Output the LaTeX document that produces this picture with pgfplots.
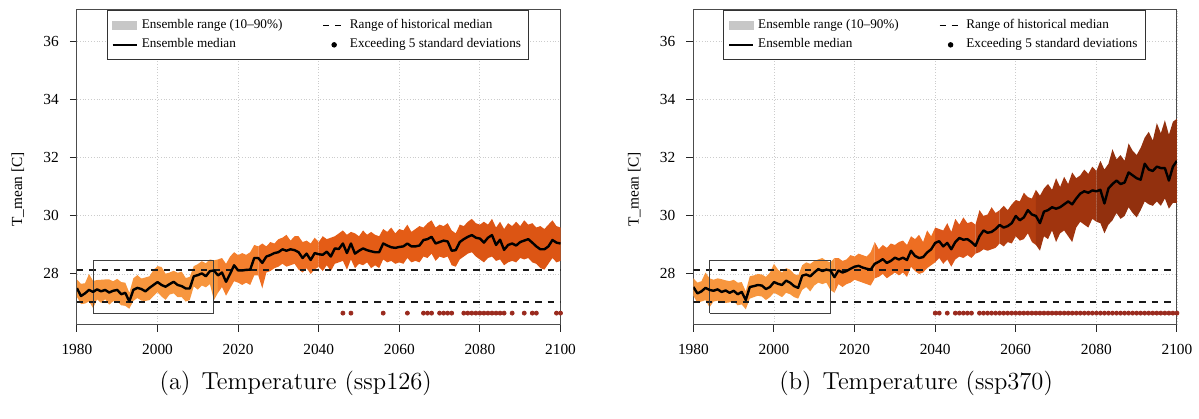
\documentclass[border=0pt]{standalone}
\usepackage{fontspec}
\usepackage{pgfplots}
\usepackage{pgfplotstable}
\pgfplotsset{compat=1.18}
\usepgfplotslibrary{fillbetween}
\newfontfamily\timesfont{Liberation Serif}

\definecolor{bandA}{HTML}{F7963E}
\definecolor{bandB}{HTML}{F4802E}
\definecolor{bandC}{HTML}{EE6E22}
\definecolor{bandD}{HTML}{E45C16}
\definecolor{bandE}{HTML}{DC5514}
\definecolor{bandR1}{HTML}{DC561A}
\definecolor{bandR2}{HTML}{C84812}
\definecolor{bandR3}{HTML}{B43E10}
\definecolor{bandR4}{HTML}{A0340E}
\definecolor{bandR5}{HTML}{92300E}
\definecolor{dotred}{HTML}{9A2A1E}

% ssp126: year, median, 10% and 90% of the ensemble
\pgfplotstableread{
year med lo hi
1980 27.51 27.21 27.81
1981 27.24 26.96 27.66
1982 27.33 26.98 27.68
1983 27.45 27.05 28.00
1984 27.38 26.83 27.76
1985 27.47 27.12 27.79
1986 27.40 27.00 27.80
1987 27.45 27.13 27.81
1988 27.36 26.94 27.81
1989 27.42 27.06 27.75
1990 27.45 27.05 27.83
1991 27.30 26.92 27.72
1992 27.35 26.90 27.70
1993 27.05 26.80 27.35
1994 27.45 27.07 27.85
1995 27.52 27.17 27.96
1996 27.48 27.08 27.84
1997 27.40 27.07 27.88
1998 27.52 27.10 27.92
1999 27.62 27.24 28.14
2000 27.72 27.37 28.27
2001 27.62 27.22 28.24
2002 27.56 27.11 28.01
2003 27.65 27.29 28.05
2004 27.73 27.33 28.11
2005 27.62 27.20 28.04
2006 27.58 27.20 28.08
2007 27.50 27.05 27.86
2008 27.50 27.10 27.90
2009 27.92 27.57 28.27
2010 27.96 27.46 28.34
2011 28.02 27.60 28.44
2012 27.92 27.54 28.37
2013 28.10 27.65 28.50
2014 28.12 27.10 28.47
2015 27.95 27.35 28.50
2016 28.05 27.55 28.55
2017 27.73 27.25 28.35
2018 28.00 27.50 28.60
2019 28.30 27.75 28.75
2020 28.12 27.70 28.65
2021 28.12 27.62 28.72
2022 28.14 27.70 28.66
2023 28.15 27.62 28.75
2024 28.55 27.95 29.00
2025 28.55 27.95 28.95
2026 28.38 27.50 29.05
2027 28.60 28.05 28.95
2028 28.65 28.10 29.10
2029 28.72 28.20 29.05
2030 28.75 28.25 29.20
2031 28.85 28.35 29.25
2032 28.80 28.25 29.35
2033 28.85 28.30 29.15
2034 28.82 28.35 29.30
2035 28.75 28.15 29.30
2036 28.55 28.05 29.10
2037 28.70 28.20 29.15
2038 28.48 28.00 29.05
2039 28.72 28.15 29.25
2040 28.68 28.25 29.10
2041 28.66 28.10 29.30
2042 28.77 28.30 29.20
2043 28.60 28.10 29.25
2044 28.88 28.35 29.30
2045 28.86 28.40 29.40
2046 29.05 28.45 29.50
2047 28.72 28.15 29.35
2048 29.05 28.50 29.45
2049 28.70 28.20 29.40
2050 28.80 28.35 29.30
2051 28.88 28.30 29.50
2052 28.82 28.40 29.35
2053 28.78 28.20 29.45
2054 28.75 28.30 29.35
2055 28.75 28.20 29.30
2056 29.05 28.50 29.55
2057 28.98 28.40 29.45
2058 28.92 28.45 29.60
2059 28.90 28.35 29.40
2060 28.93 28.40 29.55
2061 28.95 28.35 29.50
2062 29.05 28.55 29.70
2063 28.95 28.40 29.45
2064 28.95 28.45 29.55
2065 28.98 28.40 29.65
2066 29.17 28.60 29.60
2067 29.20 28.55 29.75
2068 29.28 28.70 29.85
2069 29.05 28.45 29.60
2070 29.10 28.60 29.70
2071 29.15 28.55 29.65
2072 29.12 28.60 29.75
2073 28.80 28.30 29.50
2074 28.82 28.25 29.40
2075 29.10 28.50 29.70
2076 29.20 28.60 29.65
2077 29.28 28.70 29.80
2078 29.34 28.75 29.90
2079 29.25 28.60 29.75
2080 29.22 28.50 29.70
2081 29.08 28.40 29.80
2082 29.25 28.55 29.70
2083 29.34 28.60 29.90
2084 29.00 28.45 29.60
2085 29.18 28.50 29.80
2086 28.83 28.30 29.55
2087 29.00 28.40 29.75
2088 29.05 28.45 29.65
2089 28.98 28.40 29.80
2090 29.10 28.55 29.65
2091 29.15 28.50 29.85
2092 29.20 28.55 29.70
2093 29.08 28.40 29.75
2094 28.95 28.35 29.60
2095 28.85 28.20 29.65
2096 28.85 28.15 29.55
2097 28.95 28.35 29.70
2098 29.17 28.55 29.85
2099 29.08 28.40 29.65
2100 29.05 28.45 29.60
}\tabA

% ssp370
\pgfplotstableread{
year med lo hi
1980 27.55 27.25 27.85
1981 27.33 27.00 27.70
1982 27.40 27.05 27.75
1983 27.52 27.10 28.05
1984 27.45 26.85 27.85
1985 27.42 27.05 27.80
1986 27.47 27.08 27.85
1987 27.38 27.05 27.82
1988 27.43 27.00 27.78
1989 27.35 27.02 27.75
1990 27.42 27.05 27.80
1991 27.30 26.92 27.70
1992 27.38 26.95 27.72
1993 27.10 26.78 27.40
1994 27.55 27.15 27.92
1995 27.58 27.20 27.95
1996 27.62 27.25 28.00
1997 27.60 27.22 27.98
1998 27.48 27.10 27.90
1999 27.55 27.20 28.05
2000 27.72 27.35 28.35
2001 27.66 27.28 28.15
2002 27.62 27.20 28.05
2003 27.77 27.35 28.20
2004 27.70 27.30 28.15
2005 27.58 27.20 28.00
2006 27.52 27.15 27.95
2007 27.94 27.45 28.30
2008 27.98 27.55 28.40
2009 27.92 27.40 28.35
2010 28.05 27.60 28.45
2011 28.17 27.70 28.50
2012 28.10 27.65 28.55
2013 28.15 27.70 28.45
2014 28.12 27.45 28.40
2015 27.89 27.35 28.55
2016 28.12 27.65 28.55
2017 28.05 27.55 28.45
2018 28.10 27.65 28.50
2019 28.18 27.70 28.65
2020 28.25 27.80 28.60
2021 28.28 27.75 28.70
2022 28.22 27.70 28.65
2023 28.18 27.65 28.60
2024 28.15 27.60 28.75
2025 28.35 27.85 29.10
2026 28.42 27.90 28.85
2027 28.51 28.00 29.00
2028 28.38 27.85 28.90
2029 28.45 27.95 29.05
2030 28.56 28.05 29.00
2031 28.50 27.95 29.10
2032 28.56 28.05 29.15
2033 28.48 27.90 29.00
2034 28.80 28.25 29.30
2035 28.62 28.10 29.20
2036 28.55 28.00 29.35
2037 28.58 28.05 29.10
2038 28.74 28.20 29.50
2039 28.85 28.30 29.30
2040 29.07 28.40 29.60
2041 29.13 28.55 29.55
2042 28.95 28.35 29.50
2043 29.07 28.50 29.75
2044 28.85 28.25 29.45
2045 29.10 28.50 29.90
2046 29.24 28.60 29.70
2047 29.18 28.55 29.95
2048 29.20 28.65 29.75
2049 29.10 28.55 29.80
2050 28.97 28.70 29.70
2051 29.30 28.75 30.20
2052 29.50 28.85 30.00
2053 29.42 28.80 30.05
2054 29.45 28.85 30.30
2055 29.55 28.90 30.10
2056 29.69 29.05 30.20
2057 29.60 28.95 30.35
2058 29.65 29.10 30.20
2059 29.75 29.05 30.40
2060 30.00 29.30 30.55
2061 29.85 29.15 30.50
2062 29.95 29.20 30.80
2063 30.20 29.40 30.65
2064 30.05 29.10 30.60
2065 30.00 29.00 30.90
2066 29.75 28.80 30.70
2067 30.15 29.30 30.95
2068 30.20 29.20 31.10
2069 30.30 29.50 30.90
2070 30.25 29.10 31.30
2071 30.30 29.40 31.00
2072 30.40 29.50 31.35
2073 30.50 29.30 31.10
2074 30.40 29.10 31.50
2075 30.60 29.60 31.30
2076 30.77 29.80 31.40
2077 30.85 29.70 31.60
2078 30.80 29.60 31.45
2079 30.88 29.90 31.70
2080 30.85 29.80 31.55
2081 30.90 29.75 31.90
2082 30.43 29.40 31.60
2083 30.95 29.70 31.80
2084 31.10 29.85 32.30
2085 31.22 30.10 31.95
2086 31.10 29.90 32.10
2087 31.15 30.00 31.90
2088 31.50 30.30 32.50
2089 31.40 30.10 32.25
2090 31.30 29.95 32.10
2091 31.25 30.20 32.35
2092 31.80 30.50 32.70
2093 31.60 30.40 32.90
2094 31.55 30.35 32.60
2095 31.70 30.50 33.20
2096 31.65 30.35 32.85
2097 31.65 30.60 33.30
2098 31.22 30.25 32.80
2099 31.70 30.45 33.25
2100 31.90 30.45 33.35
}\tabB

\pgfplotsset{
  panel/.style={
    width=242pt, height=157.5pt, scale only axis,
    anchor=south west,
    xmin=1980, xmax=2100, ymin=26.25, ymax=37.1,
    xtick={1980,2000,...,2100}, ytick={28,30,...,36},
    tick pos=left,
    tick align=outside, major tick length=3.5pt,
    tick style={black!85, line width=0.5pt},
    axis line style={black!70, line width=0.5pt},
    grid=major,
    major grid style={black!20, densely dotted, line width=0.45pt},
    ticklabel style={font=\timesfont\fontsize{7.7}{9}\selectfont},
    /pgf/number format/assume math mode=true,
    xticklabel style={/pgf/number format/1000 sep={}, yshift=-3pt},
    yticklabel style={xshift=-2pt},
    ylabel={T\_mean [C]},
    ylabel style={at={(rel axis cs:-0.122,0.43)}, anchor=center,
      font=\timesfont\fontsize{7.7}{9}\selectfont},
    legend style={at={(rel axis cs:0.062,1)}, anchor=north west,
      draw=black!80, line width=0.5pt, inner xsep=2pt, inner ysep=2.5pt,
      font=\timesfont\fontsize{6.6}{7.6}\selectfont,
      legend columns=2, row sep=-0.5pt,
      /tikz/every even column/.append style={column sep=18pt}},
    legend cell align=left,
  },
  medline/.style={black, line width=1.2pt, line join=round},
  histline/.style={black!90, line width=1pt, dash pattern=on 3.2pt off 3pt},
  boxline/.style={black!75, line width=0.45pt},
  dots/.style={only marks, mark=*, mark size=1pt, dotred, mark options={draw=dotred}},
}

\newcommand\panellegend{%
  \addlegendimage{legend image code/.code={\fill[black!22] (0pt,-2pt) rectangle (12pt,2pt);}}
  \addlegendentry{Ensemble range (10–90\%)}
  \addlegendimage{legend image code/.code={\draw[black, line width=0.8pt, dash pattern=on 3pt off 3pt] (1pt,0pt) -- (12pt,0pt);}}
  \addlegendentry{Range of historical median}
  \addlegendimage{legend image code/.code={\draw[black, line width=1.2pt] (0pt,0pt) -- (12pt,0pt);}}
  \addlegendentry{Ensemble median}
  \addlegendimage{legend image code/.code={\fill[black] (6.5pt,0pt) circle (1.1pt);}}
  \addlegendentry{Exceeding 5 standard deviations}
}

\begin{document}
\begin{tikzpicture}

% (a) ssp126
\begin{axis}[panel, at={(38.5pt,47pt)}]
  \addplot[name path=upA, draw=none, forget plot] table[x=year, y=hi] {\tabA};
  \addplot[name path=loA, draw=none, forget plot] table[x=year, y=lo] {\tabA};
  \addplot[bandA, forget plot] fill between[of=upA and loA, soft clip={domain=1980:2015}];
  \addplot[bandB, forget plot] fill between[of=upA and loA, soft clip={domain=2015:2025}];
  \addplot[bandC, forget plot] fill between[of=upA and loA, soft clip={domain=2025:2040}];
  \addplot[bandD, forget plot] fill between[of=upA and loA, soft clip={domain=2040:2075}];
  \addplot[bandE, forget plot] fill between[of=upA and loA, soft clip={domain=2075:2100}];
  \addplot[histline, forget plot] coordinates {(1980,28.12) (2100,28.12)};
  \addplot[histline, forget plot] coordinates {(1980,27.02) (2100,27.02)};
  \addplot[boxline, forget plot] coordinates {(1984,26.65) (2014,26.65) (2014,28.48) (1984,28.48) (1984,26.65)};
  \addplot[medline, forget plot] table[x=year, y=med] {\tabA};
  \addplot[dots, forget plot] coordinates {
    (2046,26.65) (2048,26.65) (2056,26.65) (2062,26.65) (2066,26.65) (2067,26.65)
    (2068,26.65) (2070,26.65) (2071,26.65) (2072,26.65) (2073,26.65) (2076,26.65)
    (2077,26.65) (2078,26.65) (2079,26.65) (2080,26.65) (2081,26.65) (2082,26.65)
    (2083,26.65) (2084,26.65) (2085,26.65) (2086,26.65) (2088,26.65) (2091,26.65)
    (2093,26.65) (2094,26.65) (2099,26.65) (2100,26.65)};
  \panellegend
\end{axis}

% (b) ssp370
\begin{axis}[panel, at={(347pt,47pt)}]
  \addplot[name path=upB, draw=none, forget plot] table[x=year, y=hi] {\tabB};
  \addplot[name path=loB, draw=none, forget plot] table[x=year, y=lo] {\tabB};
  \addplot[bandA, forget plot] fill between[of=upB and loB, soft clip={domain=1980:2015}];
  \addplot[bandB, forget plot] fill between[of=upB and loB, soft clip={domain=2015:2025}];
  \addplot[bandC, forget plot] fill between[of=upB and loB, soft clip={domain=2025:2040}];
  \addplot[bandR1, forget plot] fill between[of=upB and loB, soft clip={domain=2040:2050}];
  \addplot[bandR2, forget plot] fill between[of=upB and loB, soft clip={domain=2050:2056}];
  \addplot[bandR3, forget plot] fill between[of=upB and loB, soft clip={domain=2056:2065}];
  \addplot[bandR4, forget plot] fill between[of=upB and loB, soft clip={domain=2065:2080}];
  \addplot[bandR5, forget plot] fill between[of=upB and loB, soft clip={domain=2080:2100}];
  \addplot[histline, forget plot] coordinates {(1980,28.12) (2100,28.12)};
  \addplot[histline, forget plot] coordinates {(1980,27.02) (2100,27.02)};
  \addplot[boxline, forget plot] coordinates {(1984,26.65) (2014,26.65) (2014,28.48) (1984,28.48) (1984,26.65)};
  \addplot[medline, forget plot] table[x=year, y=med] {\tabB};
  \addplot[dots, forget plot] coordinates {
    (2040,26.65) (2041,26.65) (2043,26.65) (2045,26.65) (2046,26.65) (2047,26.65)
    (2048,26.65) (2049,26.65) (2051,26.65) (2052,26.65) (2053,26.65) (2054,26.65)
    (2055,26.65) (2056,26.65) (2057,26.65) (2058,26.65) (2059,26.65) (2060,26.65)
    (2061,26.65) (2062,26.65) (2063,26.65) (2064,26.65) (2065,26.65) (2066,26.65)
    (2067,26.65) (2068,26.65) (2069,26.65) (2070,26.65) (2071,26.65) (2072,26.65)
    (2073,26.65) (2074,26.65) (2075,26.65) (2076,26.65) (2077,26.65) (2078,26.65)
    (2079,26.65) (2080,26.65) (2081,26.65) (2082,26.65) (2083,26.65) (2084,26.65)
    (2085,26.65) (2086,26.65) (2087,26.65) (2088,26.65) (2089,26.65) (2090,26.65)
    (2091,26.65) (2092,26.65) (2093,26.65) (2094,26.65) (2095,26.65) (2096,26.65)
    (2097,26.65) (2098,26.65) (2099,26.65) (2100,26.65)};
  \panellegend
\end{axis}

\node[font=\fontsize{12.3}{14}\selectfont] at (148pt,17.5pt) {(a)\hspace{0.45em}Temperature (ssp126)};
\node[font=\fontsize{12.3}{14}\selectfont] at (458.5pt,17.5pt) {(b)\hspace{0.45em}Temperature (ssp370)};
\path (0,0) rectangle (599.5pt,209.5pt);
\end{tikzpicture}
\end{document}
